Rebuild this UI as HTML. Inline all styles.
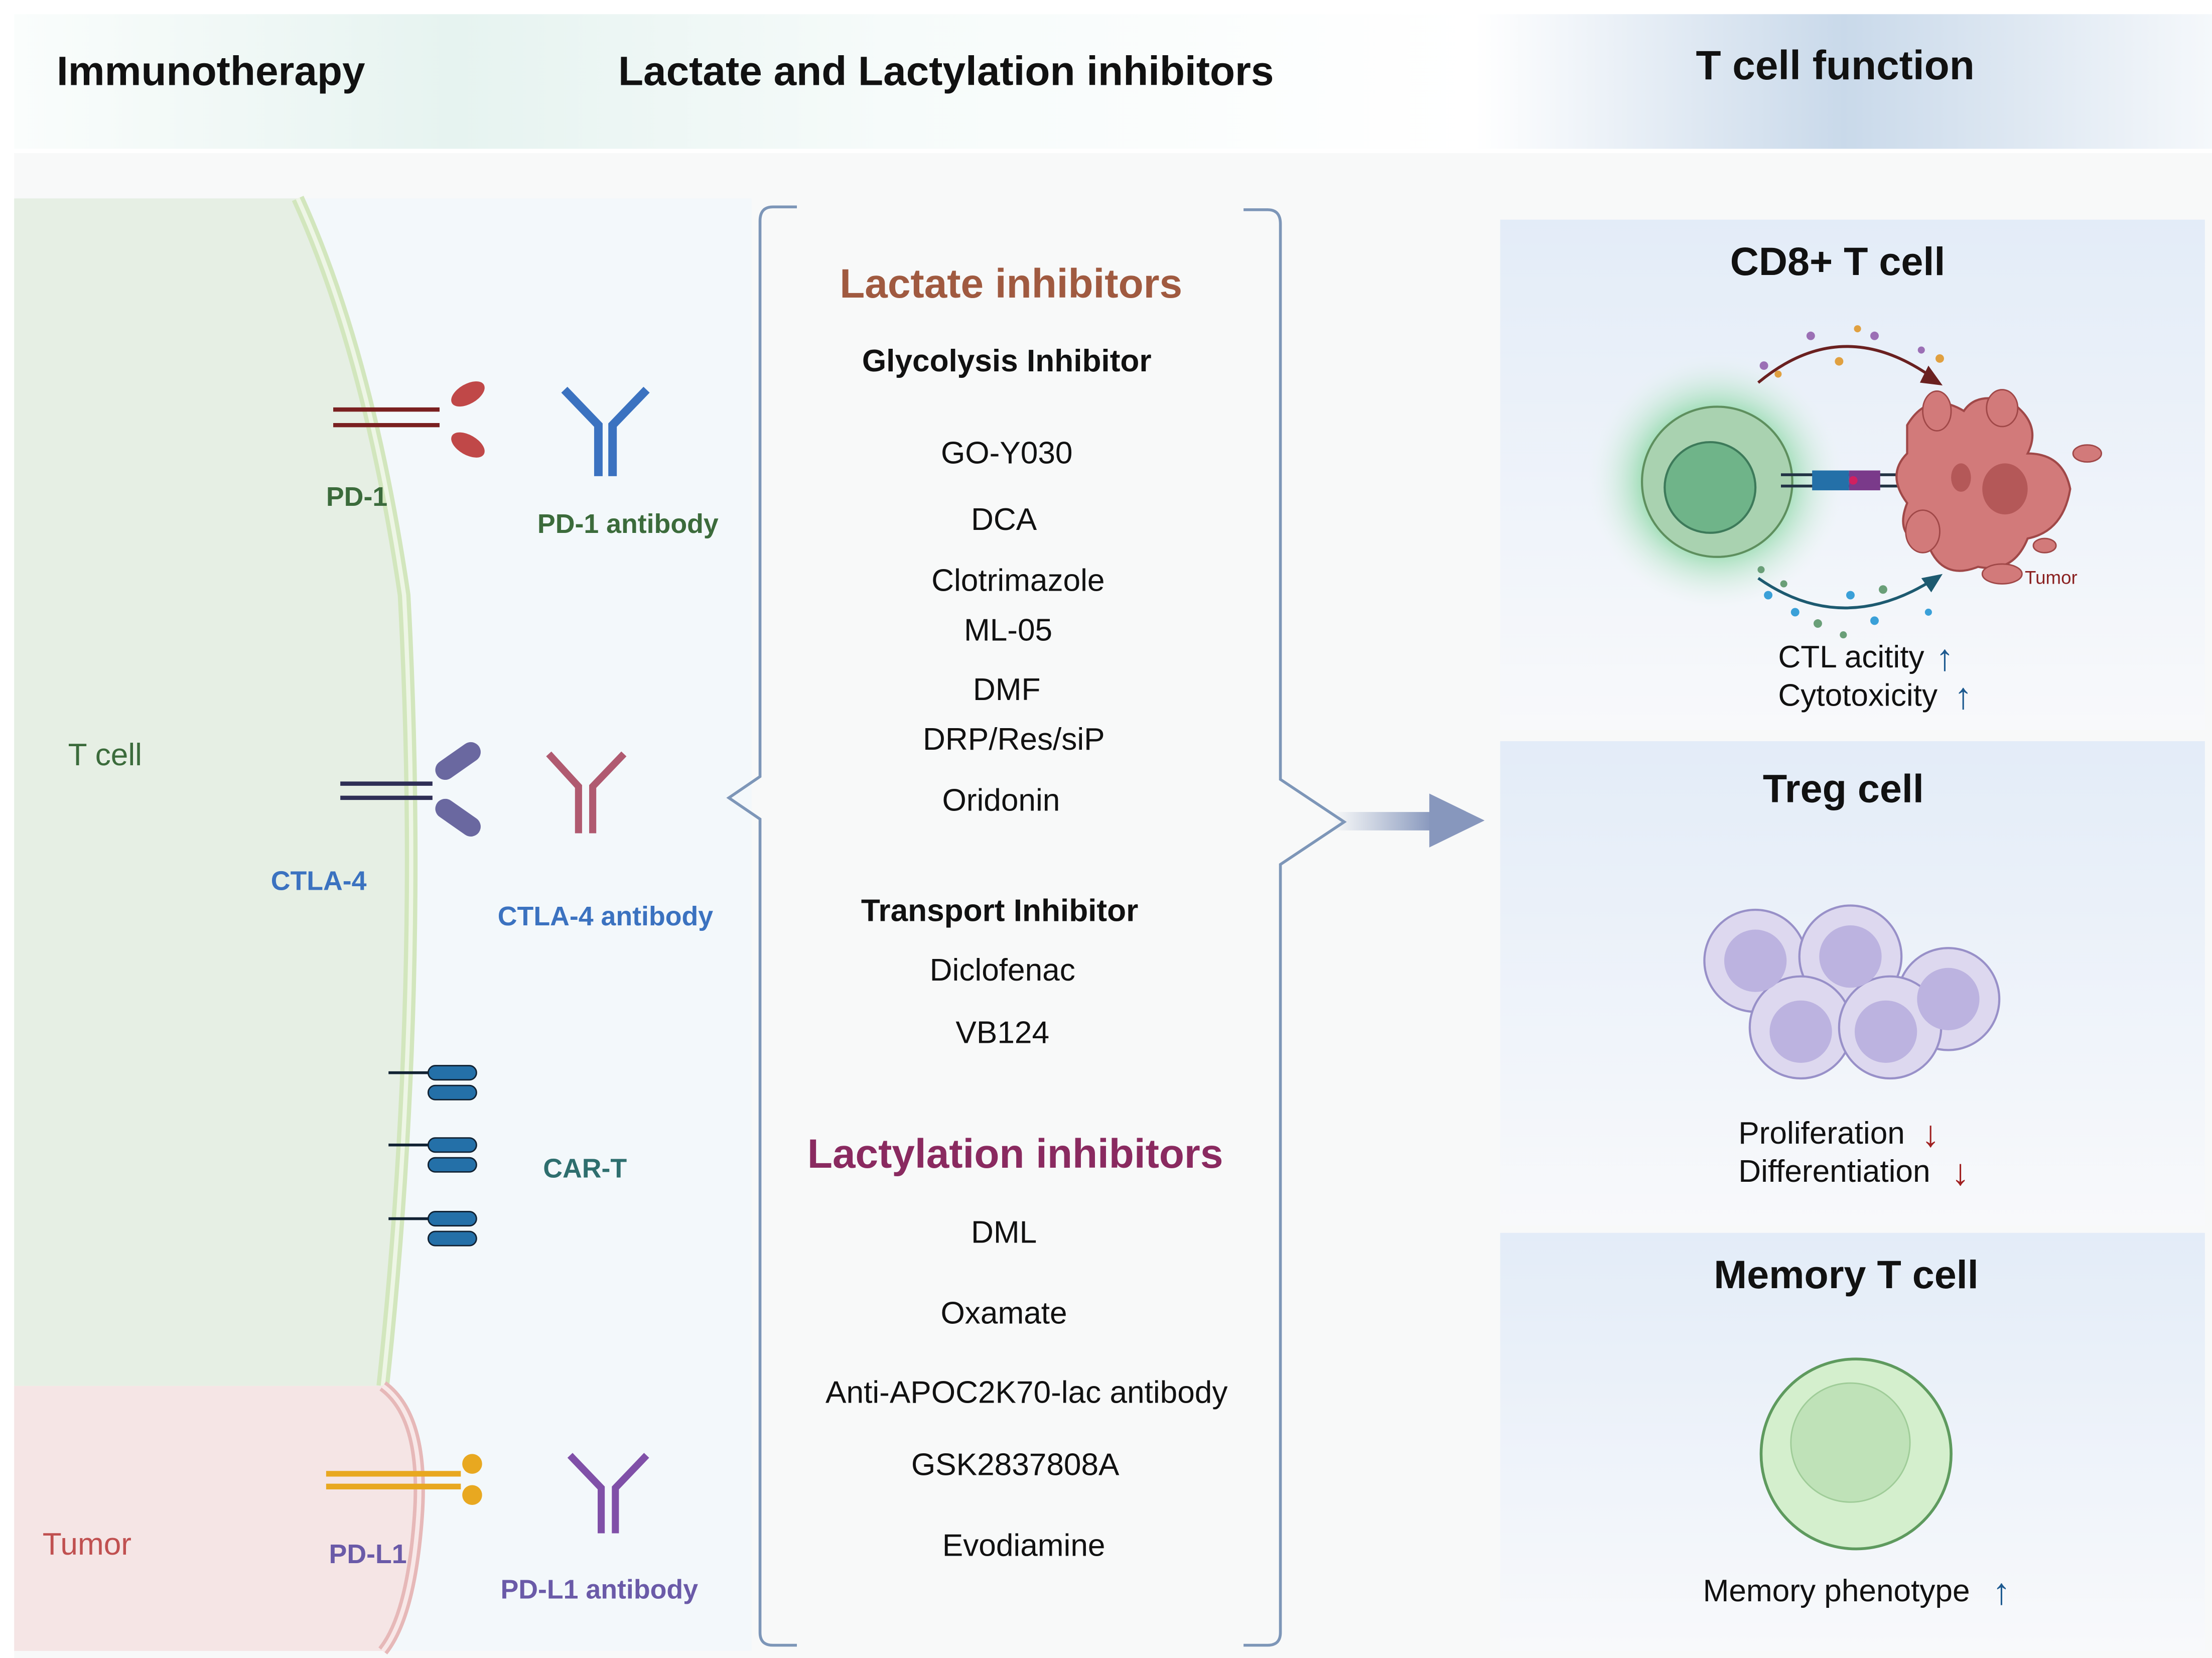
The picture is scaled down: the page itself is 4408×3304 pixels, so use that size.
<!DOCTYPE html>
<html><head><meta charset="utf-8"><style>html,body{margin:0;padding:0;background:#fff}svg{display:block}</style></head><body>
<svg width="4408" height="3304" viewBox="0 0 1560 1170" preserveAspectRatio="none" xmlns="http://www.w3.org/2000/svg" font-family="Liberation Sans, sans-serif">
<defs>
<linearGradient id="hdr" x1="0" x2="1"><stop offset="0" stop-color="#fafdfc"/><stop offset="0.3" stop-color="#e6f3f0"/><stop offset="0.6" stop-color="#f6fbfa"/><stop offset="1" stop-color="#ffffff"/></linearGradient>
<linearGradient id="hdr2" x1="0" x2="1"><stop offset="0" stop-color="#ffffff"/><stop offset="0.5" stop-color="#c9d9ea"/><stop offset="1" stop-color="#f5f8fb"/></linearGradient>
<linearGradient id="pan" x1="0" y1="0" x2="0" y2="1"><stop offset="0" stop-color="#e3ecf8"/><stop offset="1" stop-color="#f8f9fb"/></linearGradient>
<linearGradient id="arr" x1="0" x2="1"><stop offset="0" stop-color="#8fa0c0" stop-opacity="0"/><stop offset="1" stop-color="#8797bd"/></linearGradient>
<radialGradient id="glow"><stop offset="0.5" stop-color="#6fd08e" stop-opacity="0.8"/><stop offset="1" stop-color="#e8f3ee" stop-opacity="0"/></radialGradient>
</defs>
<rect width="1560" height="1170" fill="#fff"/>
<rect x="10" y="10" width="1030" height="95" fill="url(#hdr)"/>
<rect x="1040" y="10" width="520" height="95" fill="url(#hdr2)"/>
<rect x="10" y="108" width="1550" height="1062" fill="#f8f9f9"/>
<rect x="10" y="140" width="520" height="1025" fill="#f3f8fb"/>
<path d="M10 140 H210 Q260 250 285 420 Q300 700 270 978 H10 Z" fill="#e6efe4"/>
<path d="M210 140 Q260 250 285 420 Q300 700 270 978" fill="none" stroke="#d2e6bd" stroke-width="9"/>
<path d="M210 140 Q260 250 285 420 Q300 700 270 978" fill="none" stroke="#eef6e6" stroke-width="3"/>
<path d="M10 978 H270 Q300 1000 295 1070 Q290 1140 270 1165 H10 Z" fill="#f5e5e5"/>
<path d="M270 978 Q300 1000 295 1070 Q290 1140 270 1165" fill="none" stroke="#e6b8b8" stroke-width="8"/>
<path d="M270 978 Q300 1000 295 1070 Q290 1140 270 1165" fill="none" stroke="#f8e8e8" stroke-width="3"/>
<text x="40" y="60" font-size="29" font-weight="bold" fill="#111">Immunotherapy</text>
<text x="436" y="60" font-size="29" font-weight="bold" fill="#111">Lactate and Lactylation inhibitors</text>
<text x="1196" y="56" font-size="29" font-weight="bold" fill="#111">T cell function</text>
<text x="48" y="540" font-size="22" fill="#3b6b3b">T cell</text>
<text x="30" y="1097" font-size="22" fill="#c05050">Tumor</text>
<line x1="235" y1="289" x2="310" y2="289" stroke="#7a2020" stroke-width="3"/>
<line x1="235" y1="300" x2="310" y2="300" stroke="#7a2020" stroke-width="3"/>
<ellipse cx="330" cy="278" rx="13" ry="7" transform="rotate(-30 330 278)" fill="#c04848"/>
<ellipse cx="330" cy="314" rx="13" ry="7" transform="rotate(30 330 314)" fill="#c04848"/>
<text x="230" y="357" font-size="19" font-weight="bold" fill="#3b6b3b">PD-1</text>
<g stroke="#3b72c0" stroke-width="6" fill="none"><path d="M422 336 V300 L398 275 M432 336 V300 L456 275"/></g>
<text x="379" y="376" font-size="19" font-weight="bold" fill="#3b6b3b">PD-1 antibody</text>
<line x1="240" y1="553" x2="305" y2="553" stroke="#2e2e55" stroke-width="3"/>
<line x1="240" y1="563" x2="305" y2="563" stroke="#2e2e55" stroke-width="3"/>
<rect x="305" y="530" width="36" height="14" rx="7" transform="rotate(-35 323 537)" fill="#6a68a0"/>
<rect x="305" y="570" width="36" height="14" rx="7" transform="rotate(35 323 577)" fill="#6a68a0"/>
<text x="191" y="628" font-size="19" font-weight="bold" fill="#3b72c0">CTLA-4</text>
<g stroke="#b05a70" stroke-width="5" fill="none"><path d="M408 588 V555 L387 532 M418 588 V555 L440 532"/></g>
<text x="351" y="653" font-size="19" font-weight="bold" fill="#3b72c0">CTLA-4 antibody</text>
<g fill="#2470a8" stroke="#123" stroke-width="1">
<rect x="302" y="752" width="34" height="10" rx="5"/><rect x="302" y="766" width="34" height="10" rx="5"/>
<rect x="302" y="803" width="34" height="10" rx="5"/><rect x="302" y="817" width="34" height="10" rx="5"/>
<rect x="302" y="855" width="34" height="10" rx="5"/><rect x="302" y="869" width="34" height="10" rx="5"/>
</g>
<g stroke="#123" stroke-width="2"><line x1="274" y1="757" x2="302" y2="757"/><line x1="274" y1="808" x2="302" y2="808"/><line x1="274" y1="860" x2="302" y2="860"/></g>
<text x="383" y="831" font-size="19" font-weight="bold" fill="#2e6e6e">CAR-T</text>
<line x1="230" y1="1040" x2="325" y2="1040" stroke="#e8a820" stroke-width="4"/>
<line x1="230" y1="1049" x2="325" y2="1049" stroke="#e8a820" stroke-width="4"/>
<circle cx="333" cy="1033" r="7" fill="#e8a820"/><circle cx="333" cy="1055" r="7" fill="#e8a820"/>
<text x="232" y="1103" font-size="19" font-weight="bold" fill="#6a5aa8">PD-L1</text>
<g stroke="#8050a8" stroke-width="5" fill="none"><path d="M424 1082 V1050 L402 1027 M434 1082 V1050 L456 1027"/></g>
<text x="353" y="1128" font-size="19" font-weight="bold" fill="#6a5aa8">PD-L1 antibody</text>
<path d="M562 146 H545 Q536 146 536 156 V548 L514 563 L536 578 V1152 Q536 1161 545 1161 H562" fill="none" stroke="#7d96b8" stroke-width="2"/>
<path d="M877 148 H894 Q903 148 903 158 V550 L948 580 L903 610 V1152 Q903 1161 894 1161 H877" fill="none" stroke="#7d96b8" stroke-width="2"/>
<rect x="940" y="573" width="70" height="13" fill="url(#arr)"/>
<path d="M1008 560 L1047 579 L1008 598 Z" fill="#8797bd"/>
<g text-anchor="middle" font-size="22" fill="#111">
<text x="713" y="210" font-size="29" font-weight="bold" fill="#a05a40">Lactate inhibitors</text>
<text x="710" y="262" font-weight="bold">Glycolysis Inhibitor</text>
<text x="710" y="327">GO-Y030</text>
<text x="708" y="374">DCA</text>
<text x="718" y="417">Clotrimazole</text>
<text x="711" y="452">ML-05</text>
<text x="710" y="494">DMF</text>
<text x="715" y="529">DRP/Res/siP</text>
<text x="706" y="572">Oridonin</text>
<text x="705" y="650" font-weight="bold">Transport Inhibitor</text>
<text x="707" y="692">Diclofenac</text>
<text x="707" y="736">VB124</text>
<text x="716" y="824" font-size="29" font-weight="bold" fill="#8a2a60">Lactylation inhibitors</text>
<text x="708" y="877">DML</text>
<text x="708" y="934">Oxamate</text>
<text x="724" y="990">Anti-APOC2K70-lac antibody</text>
<text x="716" y="1041">GSK2837808A</text>
<text x="722" y="1098">Evodiamine</text>
</g>
<rect x="1058" y="155" width="497" height="360" fill="url(#pan)"/>
<rect x="1058" y="523" width="497" height="342" fill="url(#pan)"/>
<rect x="1058" y="870" width="497" height="295" fill="url(#pan)"/>
<g text-anchor="middle" font-size="28" font-weight="bold" fill="#111">
<text x="1296" y="194">CD8+ T cell</text>
<text x="1300" y="566">Treg cell</text>
<text x="1302" y="909">Memory T cell</text>
</g>
<circle cx="1210" cy="340" r="90" fill="url(#glow)"/>
<circle cx="1211" cy="340" r="53" fill="#a9d2b0" stroke="#5e8f5e" stroke-width="1.5"/>
<circle cx="1206" cy="344" r="32" fill="#6fb489" stroke="#3d7a5a" stroke-width="1.5"/>
<line x1="1256" y1="335" x2="1345" y2="335" stroke="#234" stroke-width="2"/>
<line x1="1256" y1="343" x2="1345" y2="343" stroke="#234" stroke-width="2"/>
<rect x="1278" y="332" width="26" height="14" fill="#2470a8"/><rect x="1304" y="332" width="22" height="14" fill="#7a3a8a"/><circle cx="1307" cy="339" r="3" fill="#d02060"/>
<path d="M1345 300 Q1360 275 1385 290 Q1395 275 1420 285 Q1440 300 1430 320 Q1455 320 1460 345 Q1455 375 1430 380 Q1420 405 1395 400 Q1370 410 1360 385 Q1335 380 1345 355 Q1330 335 1345 320 Z" fill="#d27a7a" stroke="#a04848" stroke-width="1.5"/>
<ellipse cx="1414" cy="345" rx="16" ry="18" fill="#b45858"/>
<ellipse cx="1383" cy="337" rx="7" ry="10" fill="#b45858"/>
<ellipse cx="1366" cy="290" rx="10" ry="14" fill="#d27a7a" stroke="#a04848"/>
<ellipse cx="1412" cy="288" rx="11" ry="13" fill="#d27a7a" stroke="#a04848"/>
<ellipse cx="1412" cy="405" rx="14" ry="7" fill="#d27a7a" stroke="#a04848"/>
<ellipse cx="1472" cy="320" rx="10" ry="6" fill="#d27a7a" stroke="#a04848"/>
<ellipse cx="1442" cy="385" rx="8" ry="5" fill="#d27a7a" stroke="#a04848"/>
<ellipse cx="1356" cy="375" rx="12" ry="15" fill="#d27a7a" stroke="#a04848"/>
<text x="1428" y="412" font-size="13" fill="#8a2020">Tumor</text>
<path d="M1240 270 Q1300 220 1365 268" fill="none" stroke="#6a2020" stroke-width="2"/><path d="M1360 258 L1370 272 L1354 270 Z" fill="#6a2020"/>
<path d="M1240 408 Q1300 450 1365 408" fill="none" stroke="#1d5a70" stroke-width="2"/><path d="M1355 408 L1370 405 L1362 418 Z" fill="#1d5a70"/>
<g fill="#9b6fb5"><circle cx="1277" cy="237" r="3"/><circle cx="1322" cy="237" r="3"/><circle cx="1244" cy="258" r="3"/><circle cx="1355" cy="247" r="2.5"/></g>
<g fill="#e0a040"><circle cx="1310" cy="232" r="2.5"/><circle cx="1297" cy="255" r="3"/><circle cx="1368" cy="253" r="3"/><circle cx="1254" cy="264" r="2.5"/></g>
<g fill="#3aa0d8"><circle cx="1247" cy="420" r="3"/><circle cx="1266" cy="432" r="3"/><circle cx="1305" cy="420" r="3"/><circle cx="1322" cy="438" r="3"/><circle cx="1360" cy="432" r="2.5"/></g>
<g fill="#6a9f78"><circle cx="1242" cy="402" r="2.5"/><circle cx="1258" cy="412" r="2.5"/><circle cx="1282" cy="440" r="3"/><circle cx="1300" cy="448" r="2.5"/><circle cx="1328" cy="416" r="3"/></g>
<text x="1254" y="471" font-size="22" fill="#111">CTL acitity</text><text x="1365" y="473" font-size="26" font-weight="bold" fill="#1d5a90">↑</text>
<text x="1254" y="498" font-size="22" fill="#111">Cytotoxicity</text><text x="1378" y="500" font-size="26" font-weight="bold" fill="#1d5a90">↑</text>
<g fill="#ddd8ef" stroke="#9890c8" stroke-width="1.5">
<circle cx="1238" cy="678" r="36"/><circle cx="1305" cy="675" r="36"/><circle cx="1374" cy="705" r="36"/><circle cx="1270" cy="725" r="36"/><circle cx="1333" cy="725" r="36"/>
</g>
<g fill="#bcb3e0"><circle cx="1238" cy="678" r="22"/><circle cx="1305" cy="675" r="22"/><circle cx="1374" cy="705" r="22"/><circle cx="1270" cy="728" r="22"/><circle cx="1330" cy="728" r="22"/></g>
<text x="1226" y="807" font-size="22" fill="#111">Proliferation</text><text x="1355" y="809" font-size="26" font-weight="bold" fill="#a02020">↓</text>
<text x="1226" y="834" font-size="22" fill="#111">Differentiation</text><text x="1376" y="836" font-size="26" font-weight="bold" fill="#a02020">↓</text>
<circle cx="1309" cy="1026" r="67" fill="#d4efcd" stroke="#5e9a5e" stroke-width="2"/>
<circle cx="1305" cy="1018" r="42" fill="#bfe2b8" stroke="#9fcc98" stroke-width="1"/>
<text x="1201" y="1130" font-size="22" fill="#111">Memory phenotype</text><text x="1405" y="1132" font-size="26" font-weight="bold" fill="#1d5a90">↑</text>
</svg>
</body></html>
